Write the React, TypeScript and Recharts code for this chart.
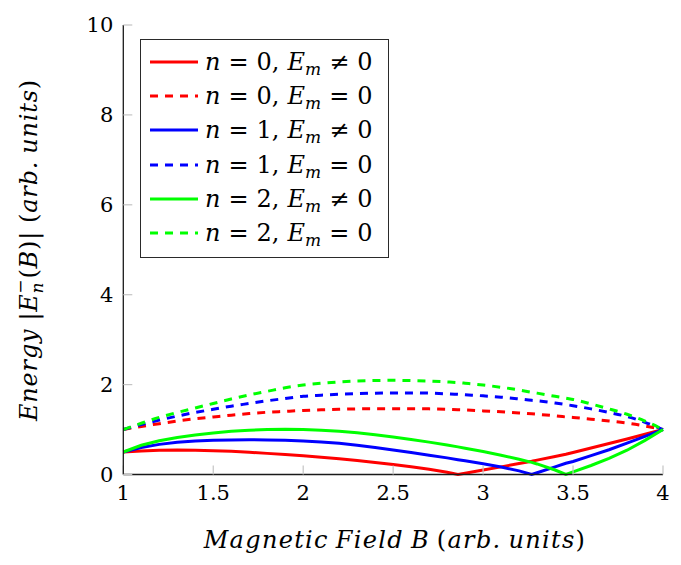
import React from "react";
import { LineChart, Line, XAxis, YAxis } from "recharts";

const B = [1.0, 1.1, 1.2, 1.3, 1.4, 1.5, 1.6, 1.7, 1.8, 1.9, 2.0, 2.1, 2.2, 2.3, 2.4, 2.5, 2.6, 2.7, 2.8, 2.86, 2.9, 3.0, 3.1, 3.2, 3.27, 3.3, 3.4, 3.46, 3.5, 3.6, 3.7, 3.8, 3.9, 4.0];

const n0Em = [0.5, 0.525, 0.54, 0.545, 0.54, 0.53, 0.515, 0.495, 0.47, 0.445, 0.415, 0.385, 0.35, 0.31, 0.265, 0.22, 0.17, 0.115, 0.05, 0.0, 0.03, 0.1, 0.17, 0.245, 0.295, 0.32, 0.4, 0.45, 0.49, 0.59, 0.69, 0.79, 0.895, 1.0];
const n0E0 = [1.0, 1.07, 1.13, 1.19, 1.24, 1.28, 1.32, 1.355, 1.385, 1.405, 1.425, 1.44, 1.45, 1.46, 1.465, 1.465, 1.465, 1.46, 1.45, 1.44, 1.435, 1.415, 1.395, 1.37, 1.35, 1.34, 1.305, 1.28, 1.27, 1.23, 1.19, 1.145, 1.08, 1.0];
const n1Em = [0.5, 0.6, 0.67, 0.715, 0.745, 0.76, 0.77, 0.775, 0.77, 0.76, 0.745, 0.725, 0.695, 0.65, 0.6, 0.545, 0.49, 0.43, 0.37, 0.33, 0.305, 0.24, 0.165, 0.08, 0.0, 0.04, 0.17, 0.25, 0.29, 0.42, 0.55, 0.7, 0.85, 1.0];
const n1E0 = [1.0, 1.11, 1.21, 1.3, 1.38, 1.45, 1.52, 1.58, 1.64, 1.69, 1.74, 1.765, 1.785, 1.8, 1.81, 1.815, 1.815, 1.81, 1.795, 1.785, 1.775, 1.75, 1.72, 1.68, 1.65, 1.64, 1.59, 1.555, 1.53, 1.46, 1.38, 1.29, 1.16, 1.0];
const n2Em = [0.5, 0.65, 0.75, 0.825, 0.88, 0.925, 0.96, 0.985, 1.0, 1.005, 1.0, 0.985, 0.96, 0.93, 0.885, 0.835, 0.78, 0.72, 0.655, 0.615, 0.585, 0.51, 0.43, 0.34, 0.27, 0.235, 0.1, 0.0, 0.06, 0.2, 0.36, 0.54, 0.76, 1.0];
const n2E0 = [1.0, 1.14, 1.27, 1.38, 1.48, 1.58, 1.68, 1.77, 1.85, 1.93, 1.99, 2.03, 2.06, 2.08, 2.09, 2.095, 2.09, 2.08, 2.06, 2.045, 2.03, 1.99, 1.94, 1.88, 1.83, 1.81, 1.74, 1.7, 1.67, 1.57, 1.46, 1.34, 1.19, 1.0];

const xTicks = [1, 1.5, 2, 2.5, 3, 3.5, 4];
const yTicks = [0, 2, 4, 6, 8, 10];

const series = [
  { key: "n0Em", n: "0", neq: true, color: "#ff0000", values: n0Em },
  { key: "n0E0", n: "0", neq: false, color: "#ff0000", values: n0E0 },
  { key: "n1Em", n: "1", neq: true, color: "#0000ff", values: n1Em },
  { key: "n1E0", n: "1", neq: false, color: "#0000ff", values: n1E0 },
  { key: "n2Em", n: "2", neq: true, color: "#00ff00", values: n2Em },
  { key: "n2E0", n: "2", neq: false, color: "#00ff00", values: n2E0 },
];

const data = B.map((b, i) => {
  const row: Record<string, number> = { B: b };
  series.forEach((s) => {
    row[s.key] = s.values[i];
  });
  return row;
});

const FONT = "DejaVu Serif";
const TICK_COLOR = "#c4c4c4";
const AXIS_COLOR = "#1a1a1a";
const DASH = "8 7";

const XLabel = () => (
  <text x={387} y={540} textAnchor="middle" fontFamily={FONT} fontSize={24} letterSpacing={1.3} fill="#000">
    <tspan fontStyle="italic">Magnetic</tspan>
    <tspan dx={7} fontStyle="italic">Field</tspan>
    <tspan dx={7} fontStyle="italic">B</tspan>
    <tspan dx={7}>(</tspan>
    <tspan fontStyle="italic">arb.</tspan>
    <tspan dx={7} fontStyle="italic">units</tspan>
    <tspan>)</tspan>
  </text>
);

const YLabel = () => (
  <text
    x={29}
    y={242}
    transform="rotate(-90, 29, 242)"
    textAnchor="middle"
    fontFamily={FONT}
    fontSize={24}
    letterSpacing={0.8}
    fill="#000"
  >
    <tspan fontStyle="italic">Energy</tspan>
    <tspan dx={8}>|</tspan>
    <tspan fontStyle="italic">E</tspan>
    <tspan fontStyle="italic" fontSize={17} dy={6}>n</tspan>
    <tspan fontSize={17} dx={-12} dy={-17}>−</tspan>
    <tspan dy={11}>(</tspan>
    <tspan fontStyle="italic">B</tspan>
    <tspan>)|</tspan>
    <tspan dx={8}>(</tspan>
    <tspan fontStyle="italic">arb.</tspan>
    <tspan dx={7} fontStyle="italic">units</tspan>
    <tspan>)</tspan>
  </text>
);

const LegendBox = () => (
  <div
    style={{
      position: "absolute",
      left: 132,
      top: 31,
      border: "1.4px solid #2a2a2a",
      background: "#fff",
      padding: "5px 6px 7px 9px",
      fontFamily: FONT,
      fontSize: 24,
      color: "#000",
      boxSizing: "border-box",
      width: 249,
    }}
  >
    {series.map((s) => (
      <div key={s.key} style={{ display: "flex", alignItems: "center", height: 34.2, whiteSpace: "nowrap" }}>
        <svg width={48} height={10} style={{ marginRight: 7, flex: "none" }}>
          <line
            x1={0}
            y1={5}
            x2={48}
            y2={5}
            stroke={s.color}
            strokeWidth={3}
            strokeDasharray={s.neq ? undefined : DASH}
          />
        </svg>
        <span style={{ lineHeight: 1 }}>
          <i>n</i>
          <span style={{ margin: "0 8px" }}>=</span>
          {s.n},
          <i style={{ marginLeft: 8 }}>E</i>
          <sub style={{ fontSize: 17, fontStyle: "italic", verticalAlign: -5, lineHeight: 0 }}>m</sub>
          <span style={{ margin: "0 8px" }}>{s.neq ? "≠" : "="}</span>
          0
        </span>
      </div>
    ))}
  </div>
);

export default function App() {
  return (
    <div style={{ position: "relative", width: 673, height: 549 }}>
      <LineChart
        width={673}
        height={557}
        data={data}
        margin={{ top: 17, right: 18, bottom: 30.5, left: 0.3 }}
      >
        <XAxis
          dataKey="B"
          type="number"
          domain={[1, 4]}
          ticks={xTicks}
          interval={0}
          height={60}
          tickSize={-9}
          tickMargin={20}
          tickLine={{ stroke: TICK_COLOR, strokeWidth: 1.2 }}
          axisLine={{ stroke: AXIS_COLOR, strokeWidth: 1.3 }}
          tick={{ fill: "#000", fontFamily: FONT, fontSize: 21 }}
          label={{ content: () => <XLabel /> }}
        />
        <XAxis
          xAxisId="top"
          dataKey="B"
          type="number"
          orientation="top"
          domain={[1, 4]}
          ticks={xTicks}
          interval={0}
          height={0}
          tickSize={-9}
          tick={false}
          tickLine={{ stroke: TICK_COLOR, strokeWidth: 1.2 }}
          axisLine={{ stroke: AXIS_COLOR, strokeWidth: 1.3 }}
        />
        <YAxis
          type="number"
          domain={[0, 10]}
          ticks={yTicks}
          interval={0}
          width={115}
          tickSize={-9}
          tickMargin={19}
          tickLine={{ stroke: TICK_COLOR, strokeWidth: 1.2 }}
          axisLine={{ stroke: AXIS_COLOR, strokeWidth: 1.3 }}
          tick={{ fill: "#000", fontFamily: FONT, fontSize: 21 }}
          label={{ content: () => <YLabel /> }}
        />
        <YAxis
          yAxisId="right"
          type="number"
          orientation="right"
          domain={[0, 10]}
          ticks={yTicks}
          interval={0}
          width={0}
          tickSize={-9}
          tick={false}
          tickLine={{ stroke: TICK_COLOR, strokeWidth: 1.2 }}
          axisLine={{ stroke: AXIS_COLOR, strokeWidth: 1.3 }}
        />
        {series.map((s) => (
          <Line
            key={s.key}
            dataKey={s.key}
            type={s.neq ? "linear" : "monotone"}
            stroke={s.color}
            strokeWidth={3}
            strokeDasharray={s.neq ? undefined : DASH}
            dot={false}
            activeDot={false}
            isAnimationActive={false}
          />
        ))}
      </LineChart>
      <LegendBox />
    </div>
  );
}
